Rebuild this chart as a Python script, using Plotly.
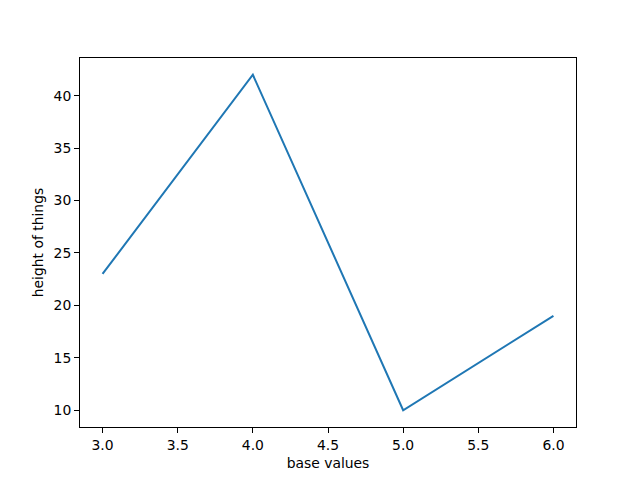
import plotly.graph_objects as go

x_values = [3, 4, 5, 6]
y_values = [23, 42, 10, 19]
x_ticks = [3.0, 3.5, 4.0, 4.5, 5.0, 5.5, 6.0]
y_ticks = [10, 15, 20, 25, 30, 35, 40]

fig = go.Figure()
fig.add_trace(go.Scatter(x=x_values, y=y_values, mode="lines",
                         line=dict(color="#1f77b4", width=2)))

axis_common = dict(showline=True, mirror=True, linecolor="black", linewidth=1.1,
                   ticks="outside", ticklen=4.9, tickwidth=1.1, tickcolor="black",
                   showgrid=False, zeroline=False,
                   tickfont=dict(family="DejaVu Sans", size=13.9, color="black"))

fig.update_layout(
    width=640, height=480,
    margin=dict(l=80, r=64, t=58, b=53),
    paper_bgcolor="white", plot_bgcolor="white",
    showlegend=False,
    font=dict(family="DejaVu Sans", size=13.9, color="black"),
    xaxis=dict(range=[2.85, 6.15], tickvals=x_ticks,
               ticktext=[f"{v:.1f}" for v in x_ticks],
               title=dict(text="base values", standoff=6,
                          font=dict(family="DejaVu Sans", size=13.9, color="black")),
               **axis_common),
    yaxis=dict(range=[8.4, 43.6], tickvals=y_ticks,
               ticktext=[str(v) for v in y_ticks],
               title=dict(text="height of things", standoff=6,
                          font=dict(family="DejaVu Sans", size=13.9, color="black")),
               **axis_common),
)

fig.write_html("out.html",
               config={"displayModeBar": False},
               post_script="document.body.style.margin='0';document.body.style.padding='0';")
